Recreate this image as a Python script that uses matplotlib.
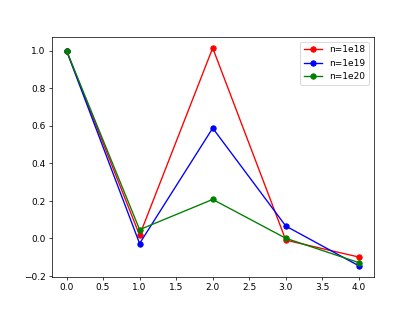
import matplotlib
matplotlib.use("Agg")
import matplotlib.pyplot as plt

x = [0, 1, 2, 3, 4]
n_1e18 = [1.0, 0.016, 1.014, -0.01, -0.10]
n_1e19 = [1.0, -0.028, 0.587, 0.065, -0.147]
n_1e20 = [1.0, 0.046, 0.207, 0.0, -0.13]

fig, ax = plt.subplots(figsize=(6.4, 4.8), dpi=64.85)
ax.plot(x, n_1e18, 'o-', color='red', label='n=1e18')
ax.plot(x, n_1e19, 'o-', color='blue', label='n=1e19')
ax.plot(x, n_1e20, 'o-', color='green', label='n=1e20')
ax.legend()
fig.savefig('out.png')
